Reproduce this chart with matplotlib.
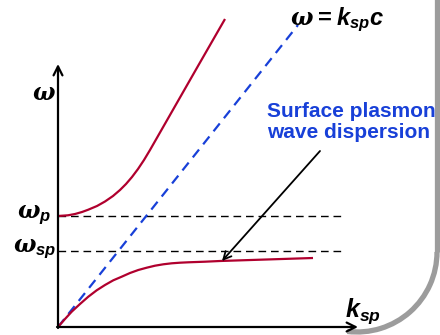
import matplotlib
matplotlib.use("Agg")
import matplotlib.pyplot as plt
from matplotlib.patches import Arc

plt.rcParams['mathtext.fontset'] = 'custom'
plt.rcParams['mathtext.it'] = 'DejaVu Serif:italic:bold'
plt.rcParams['mathtext.sf'] = 'Liberation Sans:italic:bold'
plt.rcParams['mathtext.rm'] = 'Liberation Sans:bold'

# bulk plasmon branch (above omega_p)
k_up = [0, 10, 17, 24, 30, 39, 47, 55, 62, 68, 74, 80, 86, 92, 98, 104,
        120, 140, 167]
w_up = [111, 111.7, 113, 115, 117.2, 121, 125.5, 131, 137, 143, 150, 158,
        167, 177, 187.5, 198, 226, 261, 308]

# surface plasmon branch (below omega_sp)
k_sp = [0, 7, 13.7, 22, 30.3, 38.7, 47, 55.3, 63.7, 72, 80.3, 88.7, 97,
        105.3, 113.7, 122, 130.3, 147, 162, 255]
w_sp = [0, 8, 15.3, 23, 30.3, 36.7, 42, 46.7, 50.3, 54, 57, 59.3, 61.3,
        62.7, 63.7, 64.3, 64.7, 65.3, 66, 69]

# light line
k_light = [0, 240]
w_light = [0, 302]

w_p = 111
w_s = 76
k_max = 285

red = '#b0002e'
blue = '#1840d8'

fig = plt.figure(figsize=(4.4, 3.35), dpi=100)
ax = fig.add_axes([0, 0, 1, 1])
ax.set_xlim(-58, 382)
ax.set_ylim(-8, 327)
ax.axis('off')

ax.plot([0, k_max], [w_p, w_p], '--', color='black', lw=1.0, dashes=(5.5, 3.5))
ax.plot([0, k_max], [w_s, w_s], '--', color='black', lw=1.0, dashes=(5.5, 3.5))
ax.plot(k_light, w_light, '--', color=blue, lw=1.6, dashes=(4.5, 3))
ax.plot(k_up, w_up, '-', color=red, lw=1.6, solid_capstyle='butt',
        solid_joinstyle='round')
ax.plot(k_sp, w_sp, '-', color=red, lw=1.6, solid_capstyle='butt',
        solid_joinstyle='round')

# axes with open arrow heads
ax.annotate('', xy=(0, 263), xytext=(0, -1),
            arrowprops=dict(arrowstyle='->', lw=1.6, color='black',
                            mutation_scale=16, shrinkA=0, shrinkB=0))
ax.annotate('', xy=(300, 0), xytext=(-1, 0),
            arrowprops=dict(arrowstyle='->', lw=1.6, color='black',
                            mutation_scale=16, shrinkA=0, shrinkB=0))

# pointer to the surface branch
ax.annotate('', xy=(164, 66), xytext=(262, 176),
            arrowprops=dict(arrowstyle='->', lw=1.3, color='black',
                            mutation_scale=14, shrinkA=0, shrinkB=0))

ax.text(-26, 227, r'$\omega$', fontsize=17, ha='left', va='baseline')
ax.text(-41, 109, r'$\omega_{\mathsf{p}}$', fontsize=17, ha='left', va='baseline')
ax.text(-45, 75, r'$\omega_{\mathsf{sp}}$', fontsize=17, ha='left', va='baseline')
ax.text(232, 302, r'$\omega = \mathsf{k_{sp}c}$', fontsize=17,
        ha='left', va='baseline')
ax.text(287, 10, r'$\mathsf{k_{sp}}$', fontsize=18, ha='left', va='baseline')

ax.text(209, 210, 'Surface plasmon', fontsize=15, fontweight='bold',
        family='Liberation Sans', color=blue, ha='left', va='baseline')
ax.text(209, 189, 'wave dispersion', fontsize=15, fontweight='bold',
        family='Liberation Sans', color=blue, ha='left', va='baseline')

# slide frame edge with rounded corner
gray = '#9c9c9c'
ax.plot([379, 379], [75, 340], color=gray, lw=3.8, solid_capstyle='butt')
ax.add_patch(Arc((299, 75), 160, 160, theta1=263, theta2=360, color=gray, lw=3.8))

fig.savefig('out.png', dpi=100)
